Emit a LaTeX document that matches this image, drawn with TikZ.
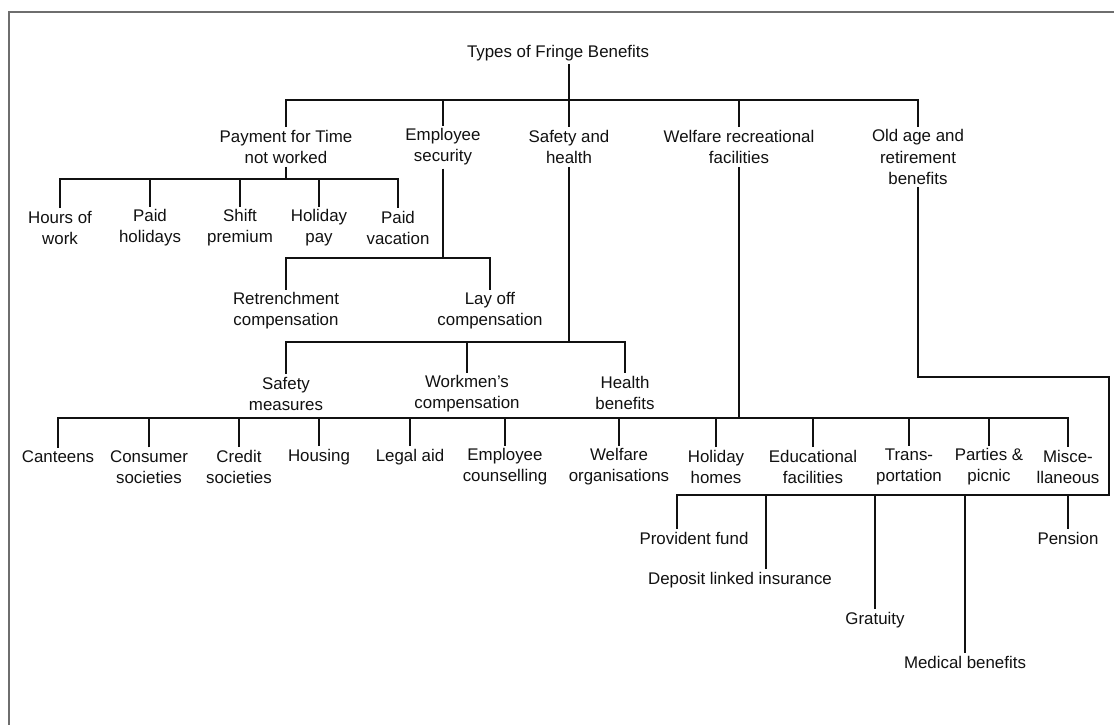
\documentclass[tikz,border=0pt]{standalone}
\usepackage{fontspec}
\setmainfont{Liberation Sans}
\usepackage{xcolor}
\usepackage{tikz}
\usetikzlibrary{calc}
\definecolor{bg}{HTML}{FFFFFF}
\definecolor{ink}{HTML}{111111}
\definecolor{rim}{HTML}{6E6E6E}
\tikzset{
  base/.style={draw=ink, line width=1.2pt},
  rimline/.style={draw=rim, line width=1.8pt},
  lab/.style={text=ink, font=\fontsize{12}{15}\selectfont, align=center, inner sep=2pt},
}
\begin{document}
\begin{tikzpicture}[x=0.025cm, y=-0.025cm]
% page and frame (pixel grid, y down)
\fill[bg] (0,0) rectangle (1114,725);
\useasboundingbox (0,0) rectangle (1114,725);
\draw[rimline] (9,725) -- (9,12) -- (1114,12);

% bus levels
\coordinate (b0) at (0,100);
\coordinate (b1) at (0,179);
\coordinate (b2) at (0,258);
\coordinate (b3) at (0,342);
\coordinate (b4) at (0,418);
\coordinate (b5) at (0,495);
\coordinate (c1) at (1109,377);

% root and main types
\node[lab] (title) at (558,53) {Types of Fringe Benefits};
\node[lab] (pay) at (286,147) {Payment for Time\\not worked};
\node[lab] (empsec) at (443,147) {Employee\\security};
\node[lab] (safety) at (569,147) {Safety and\\health};
\node[lab] (welfare) at (739,147) {Welfare recreational\\facilities};
\node[lab] (oldage) at (918,157) {Old age and\\retirement\\benefits};

% payment for time not worked
\node[lab] (hours) at (60,228) {Hours of\\work};
\node[lab] (paidhol) at (150,228) {Paid\\holidays};
\node[lab] (shift) at (240,228) {Shift\\premium};
\node[lab] (holpay) at (319,228) {Holiday\\pay};
\node[lab] (paidvac) at (398,228) {Paid\\vacation};

% employee security
\node[lab] (retrench) at (286,311) {Retrenchment\\compensation};
\node[lab] (layoff) at (490,311) {Lay off\\compensation};

% safety and health
\node[lab] (safemeas) at (286,394) {Safety\\measures};
\node[lab] (workmen) at (467,394) {Workmen’s\\compensation};
\node[lab] (health) at (625,393) {Health\\benefits};

% welfare recreational facilities
\node[lab] (canteens) at (58,457) {Canteens};
\node[lab] (consumer) at (149,467) {Consumer\\societies};
\node[lab] (credit) at (239,467) {Credit\\societies};
\node[lab] (housing) at (319,457) {Housing};
\node[lab] (legal) at (410,457) {Legal aid};
\node[lab] (counsel) at (505,467) {Employee\\counselling};
\node[lab] (welorg) at (619,467) {Welfare\\organisations};
\node[lab] (holhome) at (716,467) {Holiday\\homes};
\node[lab] (educ) at (813,467) {Educational\\facilities};
\node[lab] (trans) at (909,467) {Trans-\\portation};
\node[lab] (parties) at (989,467) {Parties \&\\picnic};
\node[lab] (misc) at (1068,467) {Misce-\\llaneous};

% old age and retirement benefits
\node[lab] (provident) at (694,538) {Provident fund};
\node[lab] (deposit) at (740,580) {Deposit linked insurance};
\node[lab] (gratuity) at (875,620) {Gratuity};
\node[lab] (medical) at (965,662) {Medical benefits};
\node[lab] (pension) at (1068,538) {Pension};
\coordinate (pv) at ([xshift=-12pt]provident.north);
\coordinate (dp) at ([xshift=18.5pt]deposit.north);

% connectors
\draw[base] (title.south -| safety) -- (safety.north);
\draw[base] (pay.north) |- (b0 -| oldage) -- (oldage.north);
\foreach \n in {empsec,welfare}
  \draw[base] (\n.north) -- (\n |- b0);

\draw[base] (pay.south) -- (pay |- b1);
\draw[base] (hours.north) |- (b1 -| paidvac) -- (paidvac.north);
\foreach \n in {paidhol,shift,holpay}
  \draw[base] (\n.north) -- (\n |- b1);

\draw[base] (empsec.south) -- (empsec |- b2);
\draw[base] (retrench.north) |- (b2 -| layoff) -- (layoff.north);

\draw[base] (safety.south) -- (safety |- b3);
\draw[base] (safemeas.north) |- (b3 -| health) -- (health.north);
\draw[base] (workmen.north) -- (workmen |- b3);

\draw[base] (welfare.south) -- (welfare |- b4);
\draw[base] (canteens.north) |- (b4 -| misc) -- (misc.north);
\foreach \n in {consumer,credit,housing,legal,counsel,welorg,holhome,educ,trans,parties}
  \draw[base] (\n.north) -- (\n |- b4);

\draw[base] (oldage.south) |- (c1) |- (b5 -| pv) -- (pv);
\draw[base] (dp) -- (dp |- b5);
\foreach \n in {gratuity,medical,pension}
  \draw[base] (\n.north) -- (\n |- b5);
\end{tikzpicture}
\end{document}
